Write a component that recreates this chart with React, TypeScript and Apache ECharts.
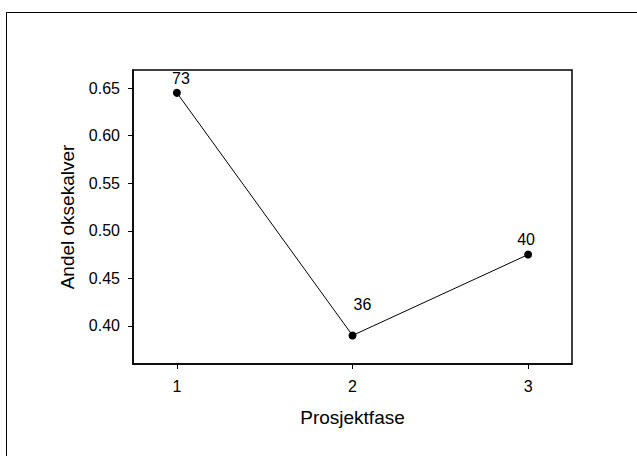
import React, { useEffect, useRef } from "react";
import * as echarts from "echarts";

// Project phases and the share of steer calves in each, with group sizes (n)
const phases = [1, 2, 3];
const shareSteerCalves = [0.645, 0.39, 0.475];
const groupSizes = [73, 36, 40];
const yTicks = [0.4, 0.45, 0.5, 0.55, 0.6, 0.65];
const xTicks = [1, 2, 3];

const FONT = "'Liberation Sans', Arial, sans-serif";

export default function App() {
  const ref = useRef<HTMLDivElement>(null);

  useEffect(() => {
    if (!ref.current) return;
    const chart = echarts.init(ref.current, undefined, { renderer: "svg" });

    const labelOffsets: Record<number, [number, number]> = {
      0: [4, 2],
      1: [10, -15],
      2: [-2, 1],
    };

    chart.setOption({
      animation: false,
      backgroundColor: "#ffffff",
      textStyle: { fontFamily: FONT },
      graphic: [
        {
          type: "rect",
          shape: { x: 6.5, y: 12.5, width: 700, height: 500 },
          style: { fill: "none", stroke: "#000", lineWidth: 1 },
          silent: true,
        },
      ],
      grid: { left: 133, right: 65, top: 70, bottom: 92, show: true, borderColor: "#000", borderWidth: 1.5, backgroundColor: "transparent" },
      xAxis: {
        type: "value",
        min: 0.75,
        max: 3.25,
        name: "Prosjektfase",
        nameLocation: "middle",
        nameGap: 44,
        nameTextStyle: { fontSize: 19, color: "#000", fontFamily: FONT },
        axisLine: { show: true, lineStyle: { color: "#000", width: 1.5 } },
        axisTick: { show: true, length: 5, customValues: xTicks, lineStyle: { color: "#000", width: 1 } },
        axisLabel: { customValues: xTicks, fontSize: 16, color: "#000", margin: 14, fontFamily: FONT },
        splitLine: { show: false },
      },
      yAxis: {
        type: "value",
        min: 0.36,
        max: 0.669,
        name: "Andel oksekalver",
        nameLocation: "middle",
        nameRotate: 90,
        nameGap: 56,
        nameTextStyle: { fontSize: 19, color: "#000", fontFamily: FONT },
        axisLine: { show: true, lineStyle: { color: "#000", width: 1.5 } },
        axisTick: { show: true, length: 5, customValues: yTicks, lineStyle: { color: "#000", width: 1 } },
        axisLabel: {
          customValues: yTicks,
          fontSize: 16,
          color: "#000",
          margin: 13,
          fontFamily: FONT,
          formatter: (v: number) => v.toFixed(2),
        },
        splitLine: { show: false },
      },
      series: [
        {
          type: "line",
          data: phases.map((p, i) => ({
            value: [p, shareSteerCalves[i]],
            label: { offset: labelOffsets[i] },
          })),
          symbol: "circle",
          symbolSize: 8,
          itemStyle: { color: "#000" },
          lineStyle: { color: "#000", width: 1 },
          label: {
            show: true,
            position: "top",
            distance: 4,
            fontSize: 16,
            color: "#000",
            fontFamily: FONT,
            formatter: (p: any) => String(groupSizes[p.dataIndex]),
          },
        },
      ],
    });

    return () => chart.dispose();
  }, []);

  return (
    <div
      ref={ref}
      style={{ position: "absolute", left: 0, top: 0, width: 637, height: 456 }}
    />
  );
}
